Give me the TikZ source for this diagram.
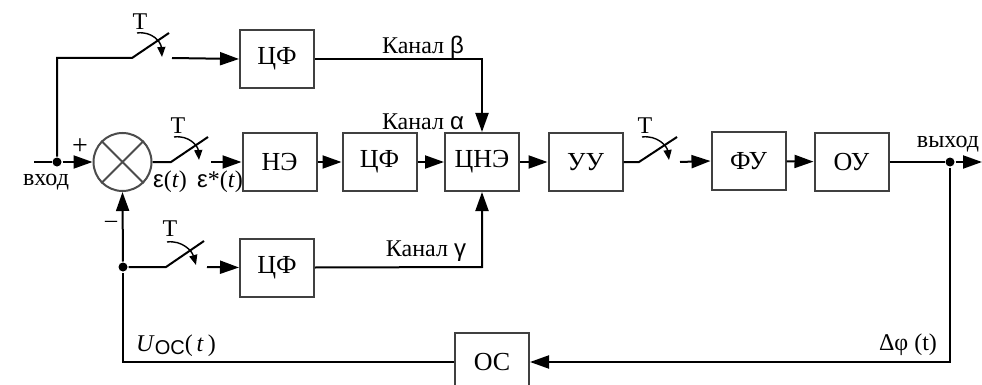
\documentclass[tikz,border=0pt]{standalone}
\usepackage{fontspec}
\setmainfont{Liberation Serif}
\newfontfamily\sansf{Liberation Sans}
\usetikzlibrary{arrows.meta}
\begin{document}
\begin{tikzpicture}[x=1pt,y=-1pt, line width=2pt,
 blk/.style={draw=black!75, line width=2pt, minimum width=74pt, minimum height=58pt, inner sep=0pt, font=\fontsize{26}{28}\selectfont},
 arr/.style={-{Triangle[length=19pt,width=13pt]}},
 sw/.style={-{Triangle[length=10pt,width=8pt]}, line width=1.4pt},
 lbl/.style={font=\fontsize{24}{26}\selectfont, inner sep=0pt},
 dot/.style={circle, fill=black, inner sep=0pt, minimum size=9pt}]
\useasboundingbox (0,0) rectangle (982,385);
% blocks
\node[blk] (cf1) at (277,59) {ЦФ};
\node[blk] (ne) at (279.5,162) {НЭ};
\node[blk] (cf2) at (379.5,162) {ЦФ};
\node[blk] (cne) at (482,162) {ЦНЭ};
\node[blk] (uu) at (585.5,162) {УУ};
\node[blk] (fu) at (748.5,161) {ФУ};
\node[blk] (ou) at (851.5,162) {ОУ};
\node[blk] (cf3) at (277,267.5) {ЦФ};
\node[blk] (oc) at (492,362) {ОС};
\node[circle, draw=black!70, line width=2pt, minimum size=58pt, inner sep=0pt] (sum) at (122.5,162) {};
\draw[black!70, line width=1.8pt] (sum.north west) -- (sum.south east) (sum.north east) -- (sum.south west);
% coordinates
\coordinate (in) at (34,162);
\node[dot] (din) at (57,162) {};
\node[dot] (dout) at (950,162) {};
\node[dot] (dfb) at (123,267) {};
\coordinate (out) at (982,162);
% input
\draw (in) -- (din);
\draw[arr] (din) -- (sum.west);
% top branch with switch
\coordinate (s1a) at (132,58); \coordinate (s1b) at (169,33); \coordinate (s1c) at (172,58);
\draw (din) |- (s1a) -- (s1b);
\draw[sw] (137,33) .. controls (152,31) and (161,42) .. (162,57);
\draw[arr] (s1c) -- (cf1.west);
\node[lbl] (t1) at (140,22) {T};
% main switch
\coordinate (s2a) at (171,162); \coordinate (s2b) at (208,137); \coordinate (s2c) at (211,162);
\draw (sum.east) -- (s2a) -- (s2b);
\draw[sw] (174,137) .. controls (189,135) and (198,146) .. (199,160);
\draw[arr] (s2c) -- (ne.west);
\node[lbl] (t2) at (178,126) {T};
% chain
\draw[arr] (ne) -- (cf2);
\draw[arr] (cf2) -- (cne);
\draw[arr] (cne) -- (uu);
% UU switch
\coordinate (s3a) at (639,162); \coordinate (s3b) at (677,137); \coordinate (s3c) at (680,162);
\draw (uu.east) -- (s3a) -- (s3b);
\draw[sw] (642,137) .. controls (657,135) and (667,146) .. (669,160);
\draw[arr] (s3c) -- (fu.west);
\node[lbl] (t3) at (645,126) {T};
\draw[arr] (fu) -- (ou);
% output
\draw (ou.east) -- (dout);
\draw[arr] (dout) -- (out);
\node[lbl] (vyh) at (948,144) {выход};
% beta channel
\coordinate (b1) at (482,59);
\draw[arr] (cf1.east) -- (b1) -- (cne.north);
\node[lbl] (kb) at (423,47) {Канал {\sansf β}};
\node[lbl] (ka) at (423,122) {Канал {\sansf α}};
% gamma channel
\coordinate (g1) at (482,267);
\draw[arr] (cf3.east) -- (g1) -- (cne.south);
\node[lbl] (kg) at (426,251) {Канал {\sansf γ}};
% gamma switch
\coordinate (s4a) at (166,267); \coordinate (s4b) at (204,241); \coordinate (s4c) at (207,267);
\draw (dfb) -- (s4a) -- (s4b);
\draw[sw] (167,242) .. controls (182,240) and (192,251) .. (196,265);
\draw[arr] (s4c) -- (cf3.west);
\node[lbl] (t4) at (170,229) {T};
% feedback
\coordinate (fb1) at (950,362);
\coordinate (fb2) at (123,362);
\draw[arr] (dout) -- (fb1) -- (oc.east);
\draw (oc.west) -- (fb2) -- (dfb);
\draw[arr] (dfb) -- (sum.south);
% labels
\node[lbl] (vh) at (46,182) {вход};
\node[lbl, font=\fontsize{28}{30}\selectfont] (pl) at (80,147) {+};
\node[lbl] (mi) at (111,224) {\textendash};
\node[lbl] (eps) at (170,182) {{\sansf ε}(\textit{t})};
\node[lbl] (epss) at (220,182) {{\sansf ε}*(\textit{t})};
\node[lbl] (uoc) at (176,346) {\textit{U}\raisebox{-3pt}{\fontsize{20}{22}\selectfont\sansf ОС}(\,\textit{t}\,)};
\node[lbl] (dphi) at (908,345) {Δφ (t)};
\end{tikzpicture}
\end{document}
